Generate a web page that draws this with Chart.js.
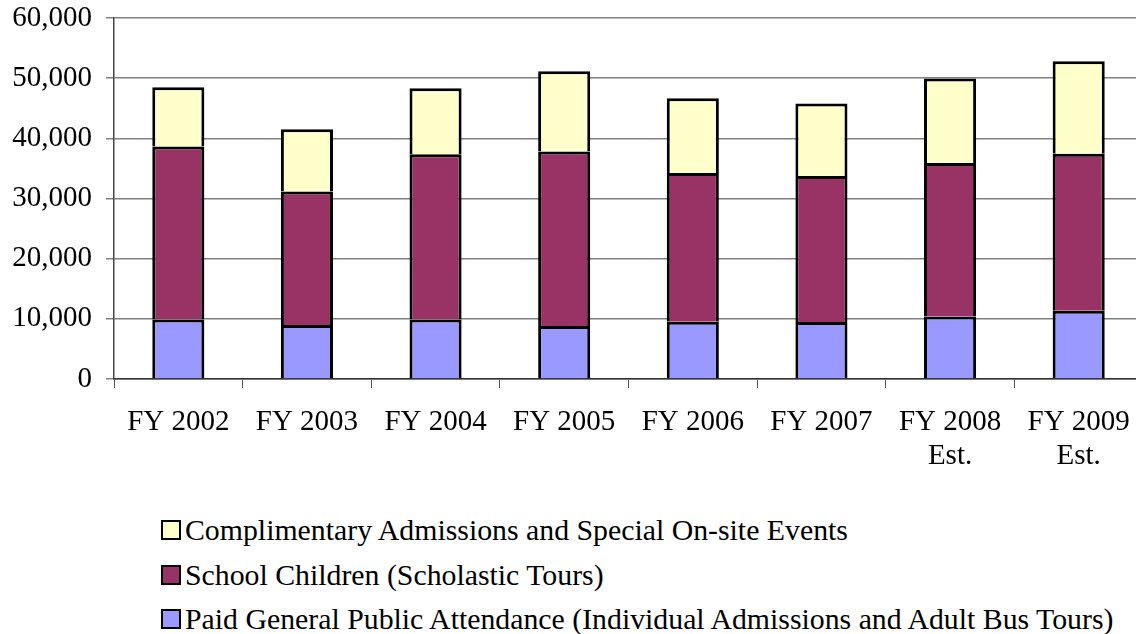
<!DOCTYPE html>
<html>
<head>
<meta charset="utf-8">
<script src="https://cdn.jsdelivr.net/npm/chart.js@4.4.1/dist/chart.umd.min.js"></script>
<style>
    html, body { margin: 0; padding: 0; background: #fff; overflow: hidden; }
    #wrap { position: relative; width: 1150px; height: 500px; }
    #leyenda { position: absolute; left: 161px; top: 508px; font-family: "Liberation Serif", "Times New Roman", serif; font-size: 29.8px; color: #000; }
    .item { height: 44.5px; line-height: 44px; white-space: nowrap; }
    .caja { display: inline-block; width: 16px; height: 16px; border: 2px solid #000; margin-right: 4px; vertical-align: 0; }
</style>
</head>
<body>
<div id="wrap"><canvas id="grafica" width="1150" height="500"></canvas></div>
<div id="leyenda"></div>
<script>
// Años fiscales (etiquetas del eje X)
const categorias = [
    ["FY 2002"], ["FY 2003"], ["FY 2004"], ["FY 2005"],
    ["FY 2006"], ["FY 2007"], ["FY 2008", "Est."], ["FY 2009", "Est."]
];

// Asistencia pagada (segmento inferior)
const pagados = [9900, 8970, 9900, 8800, 9520, 9470, 10400, 11350];
// Niños escolares (segmento del medio)
const escolares = [28740, 22190, 27475, 29010, 24700, 24250, 25480, 26080];
// Admisiones de cortesía (segmento superior)
const cortesia = [9860, 10370, 10965, 13350, 12460, 12060, 14050, 15390];

const etiquetasSeries = [
    "Paid General Public Attendance (Individual Admissions and Adult Bus Tours)",
    "School Children (Scholastic Tours)",
    "Complimentary Admissions and Special On-site Events"
];
const coloresSeries = ["#9999FF", "#993366", "#FFFFCC"];

const fuente = { family: "'Liberation Serif', 'Times New Roman', serif", size: 29 };

const datasets = [pagados, escolares, cortesia].map((valores, i) => ({
    label: etiquetasSeries[i],
    data: valores,
    backgroundColor: coloresSeries[i],
    borderColor: '#000',
    borderWidth: 3,
    borderSkipped: 'start',
    categoryPercentage: 1.0,
    barPercentage: 0.405
}));

const ctx = document.getElementById('grafica').getContext('2d');
new Chart(ctx, {
    type: 'bar',
    data: { labels: categorias, datasets: datasets },
    options: {
        responsive: false,
        animation: false,
        layout: { padding: { top: 18, right: 7, left: 0, bottom: 0 } },
        plugins: {
            legend: { display: false },
            tooltip: { enabled: false }
        },
        scales: {
            x: {
                stacked: true,
                afterFit: (scale) => { scale.height = 121; },
                grid: { offset: true, drawOnChartArea: false, drawTicks: true, tickLength: 9, color: '#555' },
                border: { color: '#333', width: 1.5 },
                ticks: { color: '#000', font: { ...fuente, lineHeight: 1.15 }, padding: 18, maxRotation: 0, autoSkip: false }
            },
            y: {
                stacked: true,
                min: 0,
                max: 60000,
                afterFit: (scale) => {
                    scale.width = 114;
                    scale.paddingTop = 0;   // el área del gráfico empieza en y=18
                },
                grid: { color: '#808080', lineWidth: 1.5, tickLength: 8 },
                border: { color: '#444', width: 1.5 },
                ticks: {
                    stepSize: 10000,
                    color: '#000',
                    font: fuente,
                    padding: 14,
                    callback: (v) => v.toLocaleString('en-US')
                }
            }
        }
    }
});

// Leyenda vertical (orden inverso, como en el original)
const leyenda = document.getElementById('leyenda');
for (let i = etiquetasSeries.length - 1; i >= 0; i--) {
    const fila = document.createElement('div');
    fila.className = 'item';
    fila.innerHTML = `<span class="caja" style="background:${coloresSeries[i]}"></span>${etiquetasSeries[i]}`;
    leyenda.appendChild(fila);
}
</script>
</body>
</html>
